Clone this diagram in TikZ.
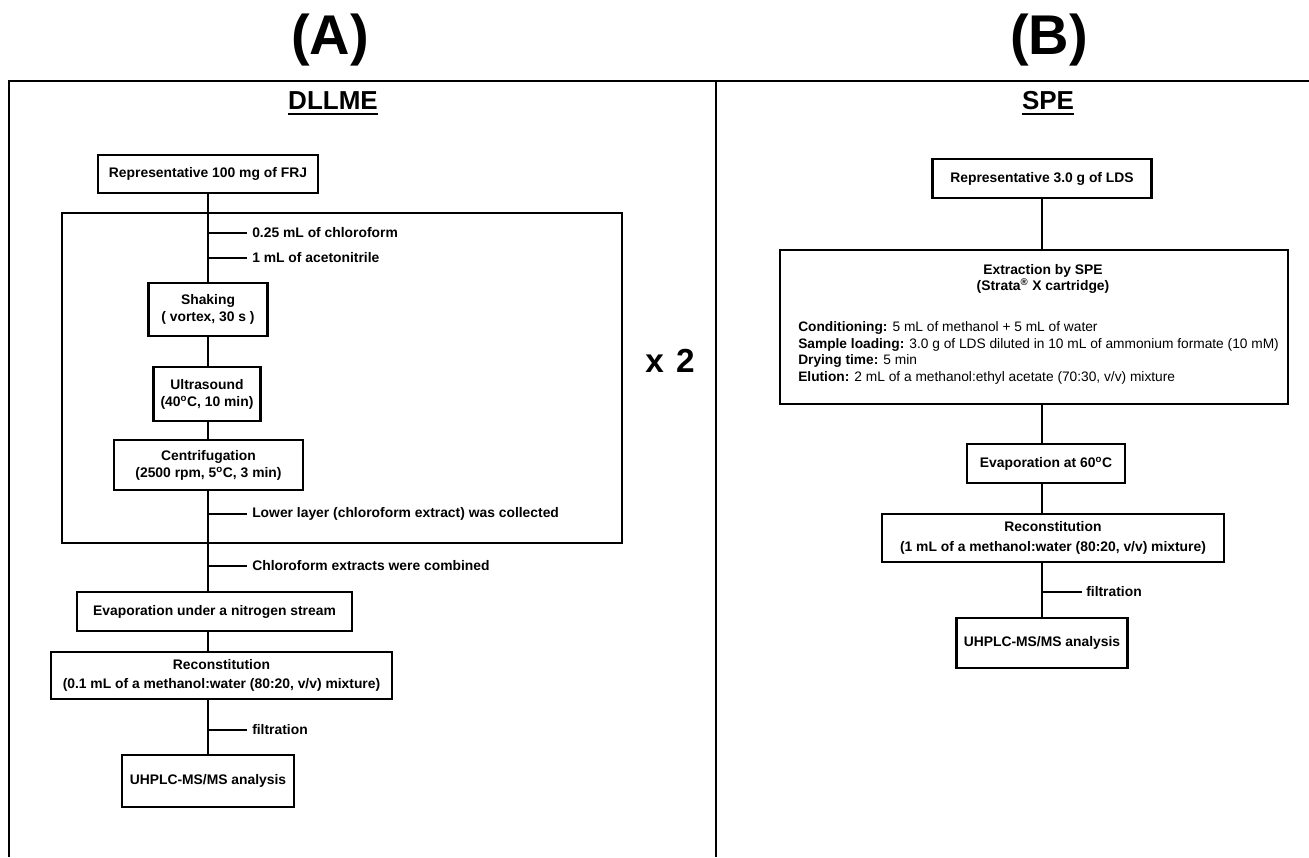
\documentclass[tikz,border=0pt]{standalone}
\usepackage{fontspec}
\setmainfont{Liberation Sans}
\begin{document}
\begin{tikzpicture}[x=0.75pt,y=-0.75pt,
  box/.style={draw,line width=1.6pt,inner sep=0pt,align=center,font=\bfseries\fontsize{10.4}{12.75}\selectfont},
  lbl/.style={anchor=west,inner sep=0pt,font=\bfseries\fontsize{10.4}{12.75}\selectfont},
  conn/.style={line width=1.6pt},
  frameline/.style={line width=1.6pt},
  bigtitle/.style={inner sep=0pt,font=\bfseries\fontsize{42}{50}\selectfont},
  subtitle/.style={inner sep=0pt,font=\bfseries\fontsize{19.5}{23}\selectfont}]
\useasboundingbox[fill=white] (0,0) rectangle (1309,857);

% frame
\draw[frameline] (8,81) -- (1309,81);
\draw[frameline] (9,81) -- (9,857);
\draw[frameline] (716,81) -- (716,857);

% titles
\node[bigtitle] (tA) at (330,40) {(A)};
\node[bigtitle] (tB) at (1049,40) {(B)};
\node[subtitle] (tdl) at (333,101) {DLLME};
\draw[line width=1.5pt] ([yshift=-3pt]tdl.south west) -- ([yshift=-3pt]tdl.south east);
\node[subtitle] (tspe) at (1048,101) {SPE};
\draw[line width=1.5pt] ([yshift=-3pt]tspe.south west) -- ([yshift=-3pt]tspe.south east);

% ---------- (A) DLLME ----------
\node[box,minimum width=165pt,minimum height=28.5pt] (b1) at (208,174) {Representative 100 mg of FRJ};
\node[draw,line width=1.6pt,inner sep=0pt,minimum width=420pt,minimum height=247.5pt] (loop) at (342,378) {};
\node[box,minimum width=89.25pt,minimum height=39.75pt] (shake) at (208,309.5) {Shaking\\( vortex, 30 s )};
\node[box,minimum width=80.25pt,minimum height=40.5pt] (ultra) at (207,394) {Ultrasound\\(40\textsuperscript{o}C, 10 min)};
\node[box,minimum width=141.75pt,minimum height=37.5pt] (centr) at (208.5,465) {Centrifugation\\(2500 rpm, 5\textsuperscript{o}C, 3 min)};
\node[box,minimum width=206.25pt,minimum height=29.25pt] (evap) at (214.5,611.5) {Evaporation under a nitrogen stream};
\node[box,minimum width=255.75pt,minimum height=35.25pt,font=\bfseries\fontsize{10.4}{14.5}\selectfont] (recon) at (221.5,675.5) {Reconstitution\\(0.1 mL of a methanol:water (80:20, v/v) mixture)};
\node[box,minimum width=129pt,minimum height=39pt] (uhA) at (208,781) {UHPLC-MS/MS analysis};
\node[inner sep=0pt,font=\bfseries\fontsize{25}{30}\selectfont] (x2) at (670,361) {x\hspace{9pt}2};

\coordinate (sp) at (208,0);
\draw[conn] (b1.south) -- (shake.north);
\draw[conn] (shake.south) -- (ultra.north -| shake.south);
\draw[conn] (ultra.south -| shake.south) -- (centr.north -| shake.south);
\draw[conn] (centr.south -| sp) -- (evap.north -| sp);
\draw[conn] (evap.south -| sp) -- (recon.north -| sp);
\draw[conn] (recon.south -| sp) -- (uhA.north);

\coordinate (a1) at (208,233); \coordinate (a1e) at (247,233);
\coordinate (a2) at (208,258); \coordinate (a2e) at (247,258);
\coordinate (a3) at (208,514); \coordinate (a3e) at (247,514);
\coordinate (a4) at (208,566); \coordinate (a4e) at (247,566);
\coordinate (a5) at (208,730); \coordinate (a5e) at (247,730);
\draw[conn] (a1) -- (a1e); \node[lbl] (la1) at (252,233) {0.25 mL of chloroform};
\draw[conn] (a2) -- (a2e); \node[lbl] (la2) at (252,258) {1 mL of acetonitrile};
\draw[conn] (a3) -- (a3e); \node[lbl] (la3) at (252,514) {Lower layer (chloroform extract) was collected};
\draw[conn] (a4) -- (a4e); \node[lbl] (la4) at (252,566) {Chloroform extracts were combined};
\draw[conn] (a5) -- (a5e); \node[lbl] (la5) at (252,730) {filtration};

% ---------- (B) SPE ----------
\node[box,minimum width=164.25pt,minimum height=29.25pt] (r1) at (1042,178.5) {Representative 3.0 g of LDS};
\node[draw,line width=1.6pt,inner sep=0pt,minimum width=381pt,minimum height=115.5pt] (big) at (1034,327) {};
\node[inner sep=0pt,align=center,font=\bfseries\fontsize{10.4}{12}\selectfont] (bt) at (1043,279) {Extraction by SPE\\(Strata\textsuperscript{®} X cartridge)};
\node[inner sep=0pt,anchor=west,align=left,font=\fontsize{10.3}{12.5}\selectfont] (bd) at (798,353)
 {\textbf{Conditioning:} 5 mL of methanol + 5 mL of water\\
  \textbf{Sample loading:} 3.0 g of LDS diluted in 10 mL of ammonium formate (10 mM)\\
  \textbf{Drying time:} 5 min\\
  \textbf{Elution:} 2 mL of a methanol:ethyl acetate (70:30, v/v) mixture};
\node[box,minimum width=118.5pt,minimum height=29.25pt] (revap) at (1046,463.5) {Evaporation at 60\textsuperscript{o}C};
\node[box,minimum width=256.5pt,minimum height=36pt,font=\bfseries\fontsize{10.4}{15}\selectfont] (rrecon) at (1053,538) {Reconstitution\\(1 mL of a methanol:water (80:20, v/v) mixture)};
\node[box,minimum width=128.25pt,minimum height=37.5pt] (uhB) at (1042,643) {UHPLC-MS/MS analysis};

\coordinate (sq) at (1042,0);
\draw[conn] (r1.south) -- (big.north -| sq);
\draw[conn] (big.south -| sq) -- (revap.north -| sq);
\draw[conn] (revap.south -| sq) -- (rrecon.north -| sq);
\draw[conn] (rrecon.south -| sq) -- (uhB.north);
\coordinate (b5) at (1042,592); \coordinate (b5e) at (1082,592);
\draw[conn] (b5) -- (b5e); \node[lbl] (lb5) at (1086,592) {filtration};
\end{tikzpicture}
\end{document}
